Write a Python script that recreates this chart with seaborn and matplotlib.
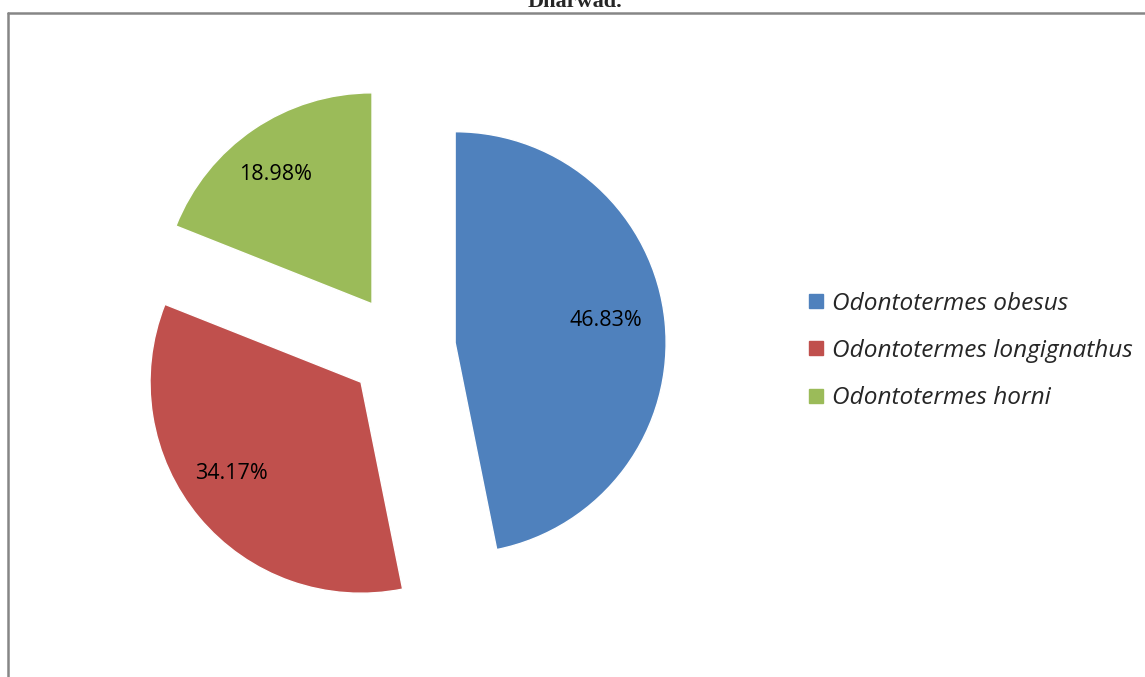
import matplotlib
matplotlib.use("Agg")
import matplotlib.pyplot as plt
import seaborn as sns
import numpy as np
from matplotlib.lines import Line2D

species = ["Odontotermes obesus", "Odontotermes longignathus", "Odontotermes horni"]
shares = [46.83, 34.17, 18.98]
pct_labels = ["46.83%", "34.17%", "18.98%"]
colors = ["#4F81BD", "#C0504D", "#9BBB59"]
title_text = "Dharwad."

sns.set_style("white")
plt.rcParams["font.family"] = ["Open Sans", "DejaVu Sans"]

W, H = 1145, 677
fig = plt.figure(figsize=(W / 100, H / 100), dpi=100)
ax = fig.add_axes([0, 0, 1, 1])

R = 211.0
cx, cy = 402.0, 348.0

wedges, texts = ax.pie(
    shares,
    colors=colors,
    startangle=90,
    counterclock=False,
    explode=[0.253] * 3,
    radius=1.0,
    center=(0, 0),
    labels=None,
    frame=True,
)
ax.set_axis_off()
ax.set_xlim(-cx / R, (W - cx) / R)
ax.set_ylim(-(H - cy) / R, cy / R)

offsets = [(-0.02, 0.03), (-0.045, 0.04), (-0.04, 0.0)]
for w, lab, (dx, dy) in zip(wedges, pct_labels, offsets):
    mid = np.deg2rad((w.theta1 + w.theta2) / 2)
    px, py = w.center
    ax.text(px + 0.74 * np.cos(mid) + dx, py + 0.74 * np.sin(mid) + dy, lab,
            ha="center", va="center", fontsize=15.5, color="black")

handles = [Line2D([], [], marker="s", linestyle="none", markersize=10,
                  markerfacecolor=c, markeredgecolor=c) for c in colors]
leg = fig.legend(handles, species, loc="center left",
                 bbox_to_anchor=(804 / W, 1 - 351 / H),
                 frameon=False, handletextpad=0.15, labelspacing=0.95,
                 prop={"style": "italic", "size": 17.6, "family": "Open Sans"},
                 handlelength=1.0, borderaxespad=0, borderpad=0)

fig.add_artist(Line2D([7.5 / W, 1], [1 - 13 / H, 1 - 13 / H], transform=fig.transFigure,
                      color="#868686", linewidth=1.8))
fig.add_artist(Line2D([7.5 / W, 7.5 / W], [0, 1 - 13 / H], transform=fig.transFigure,
                      color="#868686", linewidth=1.8))

fig.text(575 / W, 1 - 7 / H, title_text, ha="center", va="baseline",
         fontsize=16, fontweight="bold", family="Liberation Serif")

fig.savefig("out.png", dpi=100)
